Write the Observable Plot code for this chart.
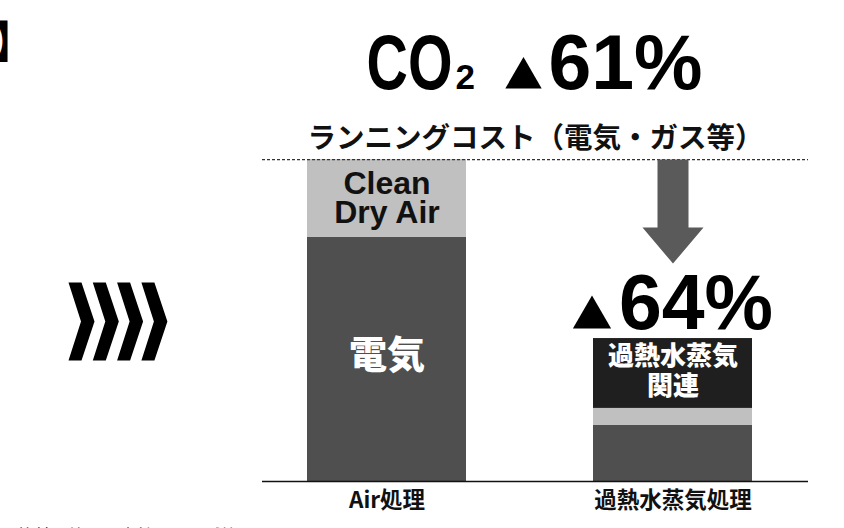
<!DOCTYPE html>
<html><head><meta charset="utf-8">
<script src="https://cdn.jsdelivr.net/npm/d3@7"></script>
<script src="https://cdn.jsdelivr.net/npm/@observablehq/plot@0.6"></script>
<style>
body{margin:0;background:#fff;overflow:hidden}
#chart{width:844px;height:528px}
</style>
</head><body><div id="chart"></div>
<script>
// ---- data ----
const methods = ["Air処理", "過熱水蒸気処理"];
const parts = ["電気", "Clean Dry Air", "過熱水蒸気関連"];
const airValues = [75.8, 24.2, 0];
const steamValues = [17.4, 5.3, 21.7];
const airLabels = ["電気", "Clean\nDry Air", ""];
const steamLabels = ["", "", "過熱水蒸気\n関連"];
const partColors = ["#4f4f4f", "#c0c0c0", "#1f1f1f"];
const titleMain = "CO";
const titleSub = "2";
const co2Reduction = "61%";
const costReduction = "64%";
const subtitle = "ランニングコスト（電気・ガス等）";
const footnote = "※比較の範囲は当社による試算です";
const bracket = "】";

const seriesValues = [airValues, steamValues];
const seriesLabels = [airLabels, steamLabels];
const data = methods.flatMap((m, i) => parts.map((p, j) => ({
  method: m, part: p, value: seriesValues[i][j], label: seriesLabels[i][j], color: partColors[j]
})));
const airTotal = d3.sum(airValues);
const steamTotal = d3.sum(steamValues);

const JP = "'Noto Sans CJK JP', 'Noto Sans', sans-serif";
const LAT = "'Liberation Sans', Arial, sans-serif";

// custom symbols
const downArrow = {draw(ctx) {
  ctx.moveTo(-15.5, 0); ctx.lineTo(15.5, 0); ctx.lineTo(15.5, 68);
  ctx.lineTo(30.5, 68); ctx.lineTo(0, 104); ctx.lineTo(-30.5, 68);
  ctx.lineTo(-15.5, 68); ctx.closePath();
}};
const chevrons = {draw(ctx) {
  for (let k = 0; k < 4; k++) {
    const x0 = k * 24.3;
    ctx.moveTo(x0, 0); ctx.lineTo(x0 + 13, 0); ctx.lineTo(x0 + 26, 39);
    ctx.lineTo(x0 + 13, 78); ctx.lineTo(x0, 78); ctx.lineTo(x0 + 12.5, 39);
    ctx.closePath();
  }
}};

const labelOf = (part) => (d) => d.part === part ? d.label : "";

const plot = Plot.plot({
  width: 844, height: 528,
  marginTop: 0, marginBottom: 47, marginLeft: 262, marginRight: 36,
  x: {domain: methods, paddingInner: 0.444, paddingOuter: 0.176, align: 0.446, axis: null},
  y: {domain: [0, 149.4], axis: null},
  marks: [
    Plot.barY(data, {x: "method", y: "value", fill: "color"}),
    Plot.ruleY([airTotal], {stroke: "#333", strokeWidth: 1.2, strokeDasharray: "3,2"}),
    Plot.ruleY([0], {stroke: "#111", strokeWidth: 1.6}),
    // in-bar labels
    Plot.text(data, Plot.stackY({x: "method", y: "value", text: labelOf("Clean Dry Air"),
      fill: "#111", fontFamily: LAT, fontWeight: "bold", fontSize: 32, lineHeight: 0.88, dy: 1})),
    Plot.text(data, Plot.stackY({x: "method", y: "value", text: labelOf("電気"),
      fill: "white", fontFamily: JP, fontWeight: 900, fontSize: 38, dy: -4})),
    Plot.text(data, Plot.stackY({x: "method", y: "value", text: labelOf("過熱水蒸気関連"),
      fill: "white", fontFamily: JP, fontWeight: 900, fontSize: 26, lineHeight: 1.15, dy: -3})),
    // category labels
    Plot.text(methods, {x: d => d, frameAnchor: "bottom", dy: 26, fontFamily: JP, fontWeight: "bold", fontSize: 22.5, fill: "#111"}),
    // arrow
    Plot.dot([airTotal], {x: () => methods[1], y: d => d, symbol: downArrow, fill: "#5a5a5a", r: 10}),
    // reduction of steam
    Plot.text([costReduction], {x: () => methods[1], y: () => steamTotal, dx: 23, dy: -10, lineAnchor: "bottom",
      fontFamily: LAT, fontWeight: "bold", fontSize: 77, fill: "#000"}),
    Plot.dot([costReduction], {x: () => methods[1], y: () => steamTotal, symbol: "triangle", r: 14.2, dx: -81, dy: -21, fill: "#000"}),
    // title
    Plot.text([titleMain], {frameAnchor: "top", textAnchor: "start", dx: -169, dy: 88, lineAnchor: "bottom",
      fontFamily: LAT, fontWeight: "bold", fontSize: 77, fill: "#000"}),
    Plot.text([titleSub], {frameAnchor: "top", textAnchor: "start", dx: -80, dy: 88, lineAnchor: "bottom",
      fontFamily: LAT, fontWeight: "bold", fontSize: 35, fill: "#000"}),
    Plot.dot([co2Reduction], {frameAnchor: "top", symbol: "triangle", r: 13.5, dx: -12, dy: 77.5, fill: "#000"}),
    Plot.text([co2Reduction], {frameAnchor: "top", textAnchor: "middle", dx: 90, dy: 88, lineAnchor: "bottom",
      fontFamily: LAT, fontWeight: "bold", fontSize: 77, fill: "#000"}),
    Plot.text([subtitle], {frameAnchor: "top", dy: 127, fontFamily: JP, fontWeight: "bold", fontSize: 28.5, fill: "#111"}),
    // decorations
    Plot.dot([0], {frameAnchor: "left", symbol: chevrons, dx: -194, dy: 41.5, fill: "#000", r: 10}),
    Plot.text([bracket], {frameAnchor: "top-left", textAnchor: "start", dx: -270, dy: 26,
      fontFamily: JP, fontWeight: "bold", fontSize: 44, fill: "#000"}),
    Plot.text([footnote], {frameAnchor: "bottom-left", textAnchor: "start", dx: -262, dy: 60, lineAnchor: "bottom",
      fontFamily: JP, fontSize: 17, fill: "#333"})
  ]
});
d3.select(plot).selectAll("text").filter(function() { return this.textContent === titleMain; })
  .attr("textLength", 86).attr("lengthAdjust", "spacingAndGlyphs");
d3.select(plot).style("overflow", "visible");
document.getElementById("chart").append(plot);
</script>
</body></html>
